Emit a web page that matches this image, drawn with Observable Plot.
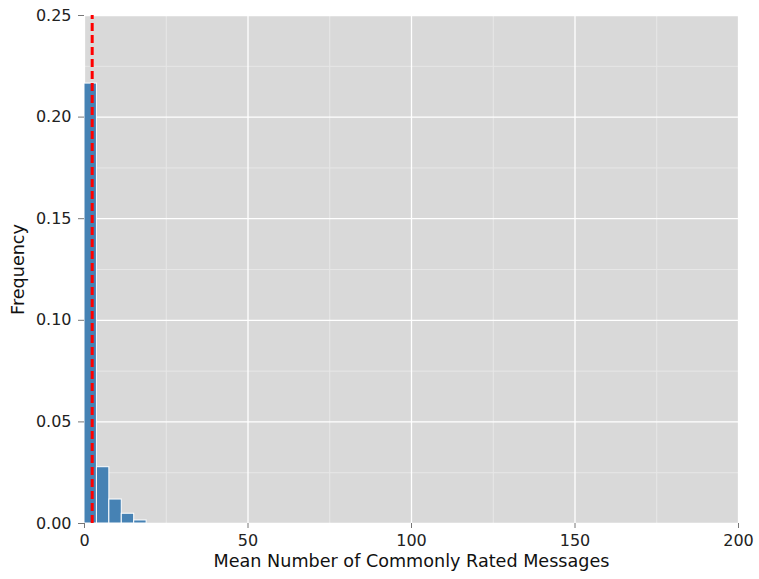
<!DOCTYPE html>
<html><head><meta charset="utf-8">
<script src="https://cdn.jsdelivr.net/npm/d3@7"></script>
<script src="https://cdn.jsdelivr.net/npm/@observablehq/plot@0.6"></script>
<style>body{margin:0;background:#fff}</style>
</head><body><div id="chart"></div>
<script>
const binStarts = [0, 3.8, 7.6, 11.4, 15.2];
const binWidth = 3.8;
const frequencies = [0.2165, 0.0277, 0.0118, 0.0048, 0.0015];
const meanLine = [2.35];
const xTicks = [0, 50, 100, 150, 200];
const yTicks = [0, 0.05, 0.10, 0.15, 0.20, 0.25];
const xMinor = [25, 75, 125, 175];
const yMinor = [0.025, 0.075, 0.125, 0.175, 0.225];
const xLabel = "Mean Number of Commonly Rated Messages";
const yLabel = "Frequency";

const bins = binStarts.map((s, i) => ({x1: s, x2: s + binWidth, y: frequencies[i]}));

const chart = Plot.plot({
  width: 759, height: 579,
  marginLeft: 84, marginRight: 21, marginTop: 15, marginBottom: 56,
  style: {fontFamily: "DejaVu Sans", fontSize: "16px", color: "#222", background: "white"},
  x: {domain: [0, 200]},
  y: {domain: [0, 0.25]},
  marks: [
    Plot.frame({fill: "#d9d9d9", stroke: null}),
    Plot.gridX(xMinor, {stroke: "#e7e7e7", strokeOpacity: 1, strokeWidth: 1}),
    Plot.gridY(yMinor, {stroke: "#e7e7e7", strokeOpacity: 1, strokeWidth: 1}),
    Plot.gridX(xTicks, {stroke: "white", strokeOpacity: 1, strokeWidth: 1.3}),
    Plot.gridY(yTicks, {stroke: "white", strokeOpacity: 1, strokeWidth: 1.3}),
    Plot.rectY(bins, {x1: "x1", x2: "x2", y: "y", fill: "#4682b4", stroke: "white", strokeWidth: 1}),
    Plot.ruleX(meanLine, {y1: () => 0, y2: () => 0.25, stroke: "red", strokeWidth: 3, strokeDasharray: "8,4"}),
    Plot.axisX(xTicks, {tickSize: 5, tickPadding: 6, stroke: "#777", label: null}),
    Plot.axisY(yTicks, {tickSize: 6, tickPadding: 7, stroke: "#777", tickFormat: d3.format(".2f"), label: null}),
    Plot.text([xLabel], {frameAnchor: "bottom", dy: 43, fontSize: 17.6, fill: "#111"}),
    Plot.text([yLabel], {frameAnchor: "left", textAnchor: "middle", dx: -66.3, rotate: -90, fontSize: 17.6, fill: "#111"})
  ]
});
document.getElementById("chart").appendChild(chart);
</script>
</body></html>
